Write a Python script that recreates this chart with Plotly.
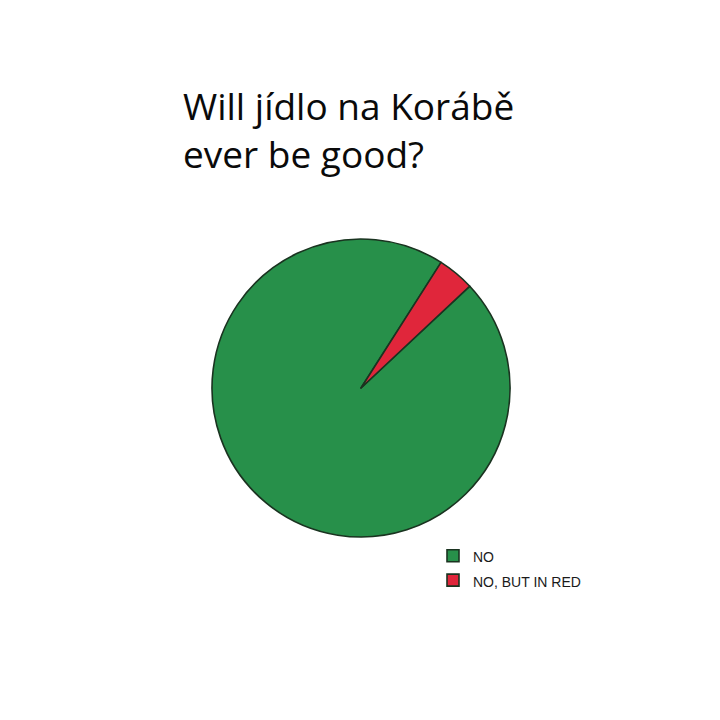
import plotly.graph_objects as go

labels = ["NO", "NO, BUT IN RED"]
values = [96, 4]
colors = ["#27904A", "#E0263B"]
title_lines = ["Will jídlo na Korábě", "ever be good?"]

W, H = 720, 720

# legend rows are taller than the text in the reference: larger base font, 14px text
legend_labels = [f"<span style='font-size:14px'>{l}</span>" for l in labels]

fig = go.Figure(go.Pie(
    labels=legend_labels,
    values=values,
    sort=False,
    direction="clockwise",
    rotation=46.9,
    marker=dict(colors=colors, line=dict(color="#1A3320", width=1.6)),
    textinfo="none",
    hoverinfo="label+percent",
    domain=dict(x=[212 / W, 510 / W], y=[1 - 537 / H, 1 - 239 / H]),
))

fig.add_annotation(
    text="<br>".join(title_lines),
    x=181 / W, y=1 - 78 / H, xref="paper", yref="paper",
    xanchor="left", yanchor="top", align="left", showarrow=False,
    font=dict(family="Open Sans", size=37, color="#0A0A0A"),
)

fig.update_layout(
    width=W, height=H,
    margin=dict(l=0, r=0, t=0, b=0),
    paper_bgcolor="white", plot_bgcolor="white",
    showlegend=True,
    legend=dict(x=433 / W, y=1 - 538.5 / H, xanchor="left", yanchor="top",
                font=dict(family="Liberation Sans, Arial", size=16.5, color="#1A1A1A"),
                bgcolor="rgba(0,0,0,0)"),
)

fig.write_html("out.html")
